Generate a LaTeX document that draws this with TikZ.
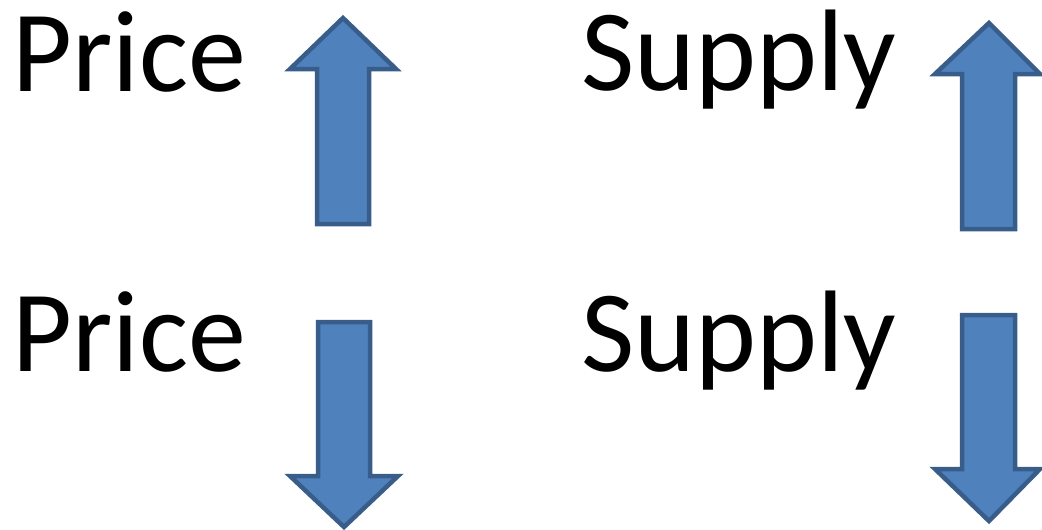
\documentclass[tikz,border=0pt]{standalone}
\usepackage{fontspec}
\setmainfont{Carlito}
\definecolor{arrowfill}{HTML}{4F81BD}
\definecolor{arrowline}{HTML}{385D8A}
\tikzset{
  label/.style={anchor=base west, inner sep=0pt, font=\fontsize{116}{120}\selectfont},
  blockarrow/.style={fill=arrowfill, draw=arrowline, line width=4.5pt, line join=miter}
}
\begin{document}
\begin{tikzpicture}[x=1pt, y=-1pt]
  \useasboundingbox (0,0) rectangle (1042,530);

  % labels
  \node[label] (price-up) at (12,91) {Price};
  \node[label] (price-down) at (12,371) {Price};
  \node[label] (supply-up) at (581,90) {Supply};
  \node[label] (supply-down) at (581,371) {Supply};

  % up arrow next to the first price
  \draw[blockarrow] (317,224) -- (317,69) -- (290,69) -- (343,18) -- (396,69)
    -- (369,69) -- (369,224) -- cycle;
  % down arrow next to the second price
  \draw[blockarrow] (318,322) -- (318,476) -- (290,476) -- (344,527) -- (398,476)
    -- (370,476) -- (370,322) -- cycle;
  % up arrow next to the first supply
  \draw[blockarrow] (962,229) -- (962,74) -- (935,74) -- (989,23) -- (1040,74)
    -- (1015,74) -- (1015,229) -- cycle;
  % down arrow next to the second supply
  \draw[blockarrow] (962,315) -- (962,469) -- (935,469) -- (989,521) -- (1040,469)
    -- (1015,469) -- (1015,315) -- cycle;
\end{tikzpicture}
\end{document}
